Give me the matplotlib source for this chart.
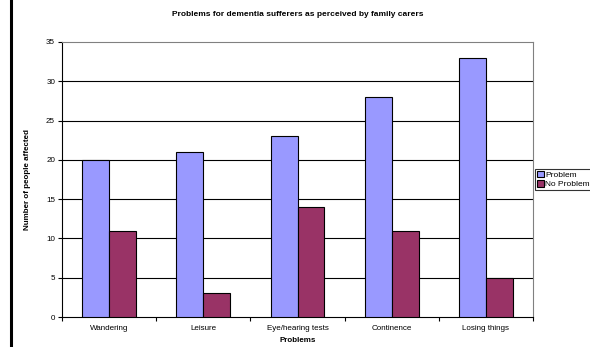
import numpy as np
import matplotlib
matplotlib.use("Agg")
import matplotlib.pyplot as plt
from matplotlib.lines import Line2D

plt.rcParams['font.family'] = ['Liberation Sans', 'DejaVu Sans']

categories = ['Wandering', 'Leisure', 'Eye/hearing tests', 'Continence', 'Losing things']
problem = [20, 21, 23, 28, 33]
no_problem = [11, 3, 14, 11, 5]

fig = plt.figure(figsize=(5.9, 3.47), dpi=100)
ax = fig.add_axes([62/590, 1 - 317/347, (533-62)/590, (317-42)/347])

x = np.arange(len(categories))
w = 0.285
ax.bar(x - w/2, problem, w, color='#9999FF', edgecolor='black', linewidth=0.8, label='Problem', zorder=3)
ax.bar(x + w/2, no_problem, w, color='#993366', edgecolor='black', linewidth=0.8, label='No Problem', zorder=3)

ax.set_xlim(-0.5, len(categories) - 0.5)
ax.set_ylim(0, 35)
ax.set_yticks(range(0, 36, 5))
for yv in range(5, 35, 5):
    ax.axhline(yv, color='black', linewidth=0.8, zorder=1)

ax.set_xticks(x)
ax.set_xticklabels(categories)
ax.set_xticks(np.arange(-0.5, len(categories)), minor=True)
ax.tick_params(axis='x', which='major', length=0, labelsize=5.8, pad=6)
ax.tick_params(axis='x', which='minor', length=3, width=0.8, direction='out')
ax.tick_params(axis='y', length=3, width=0.8, labelsize=5.8, pad=2)

for side in ['top', 'right']:
    ax.spines[side].set_color('#808080')
    ax.spines[side].set_linewidth(0.8)
for side in ['left', 'bottom']:
    ax.spines[side].set_color('black')
    ax.spines[side].set_linewidth(0.8)

ax.set_xlabel('Problems', fontsize=5.8, fontweight='bold', labelpad=3)
ax.set_ylabel('Number of people affected', fontsize=5.8, fontweight='bold', labelpad=11)
fig.text(298/590, 1 - 14/347, 'Problems for dementia sufferers as perceived by family carers',
         ha='center', va='center', fontsize=6, fontweight='bold')

leg = ax.legend(loc='center left', bbox_to_anchor=(1.004, 0.50), fontsize=6,
                frameon=True, fancybox=False, edgecolor='black', borderpad=0.25,
                handlelength=0.8, handleheight=0.8, handletextpad=0.2, labelspacing=0.15,
                borderaxespad=0)
leg.get_frame().set_linewidth(0.8)

# dark rule along the left edge
fig.add_artist(Line2D([10.5/590, 10.5/590], [0, 1], color='black', linewidth=2.2,
                      transform=fig.transFigure))

fig.savefig('out.png', dpi=100)
